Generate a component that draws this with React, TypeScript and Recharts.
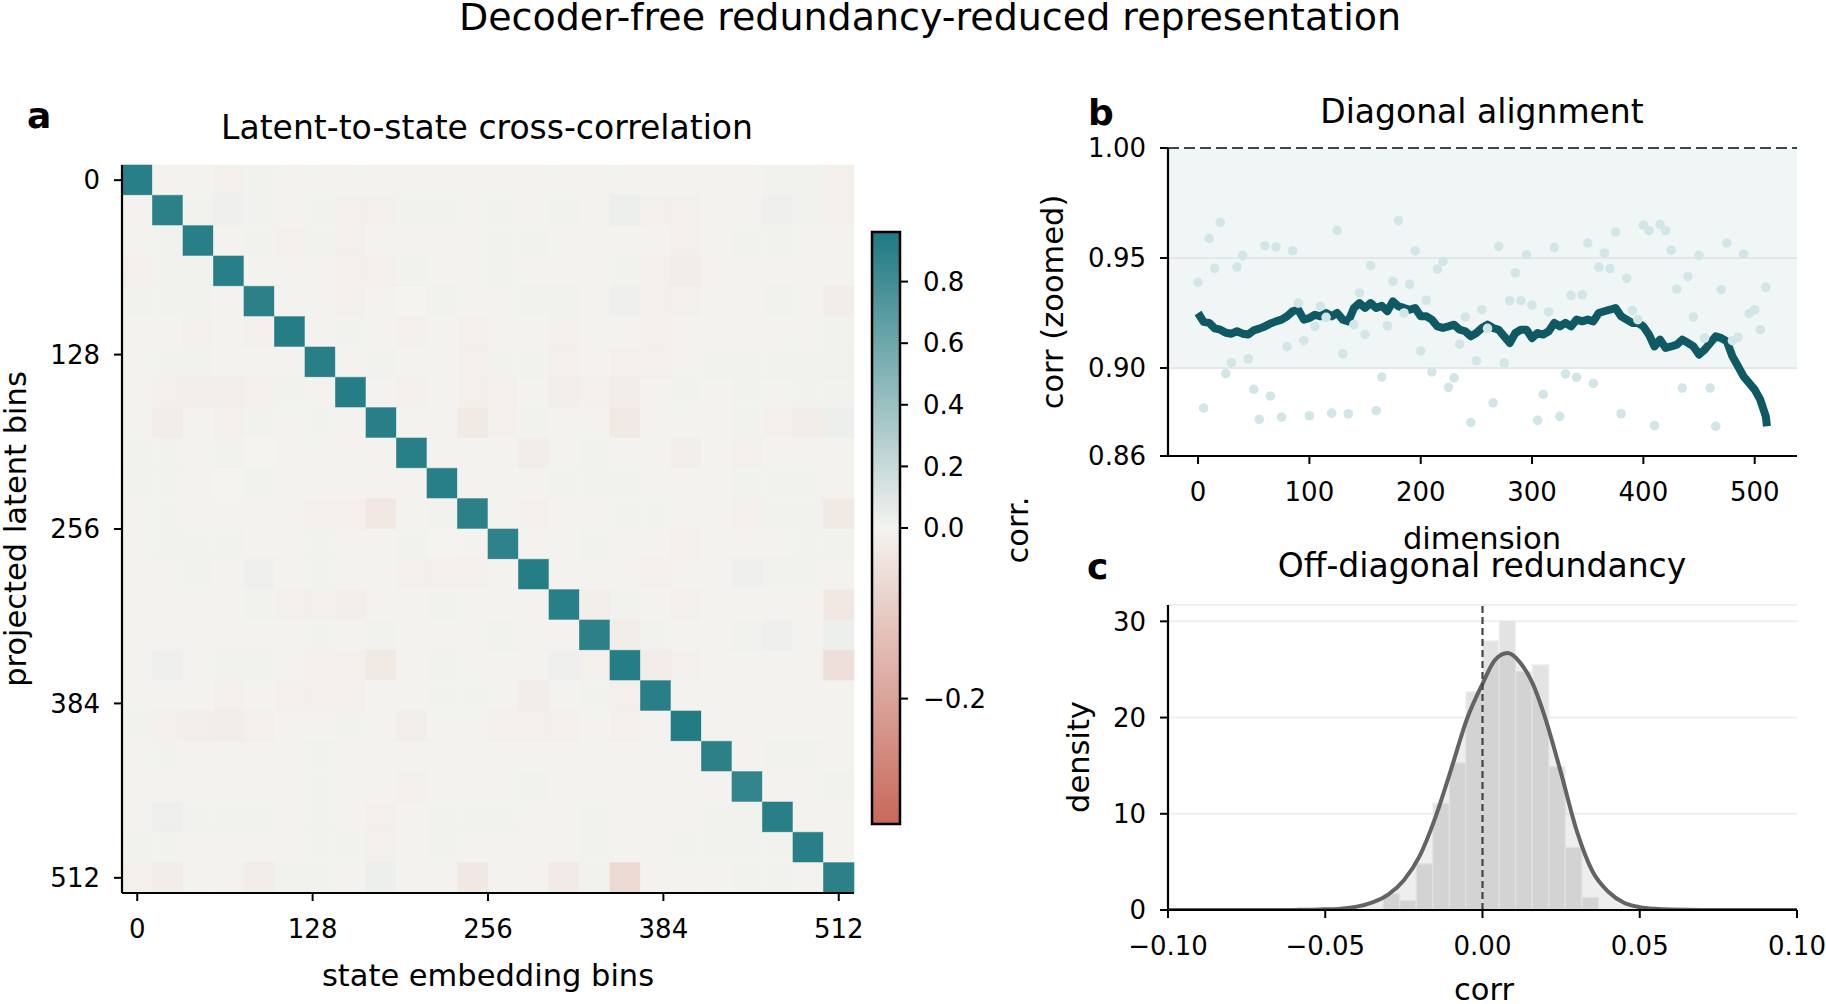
import React from 'react';
import {
  ComposedChart,
  XAxis,
  YAxis,
  ReferenceArea,
  ReferenceLine,
  CartesianGrid,
  Line,
  Area,
  Scatter,
} from 'recharts';

const FONT = '"DejaVu Sans", Verdana, sans-serif';

// ---------- a: latent-to-state cross-correlation (24 x 24 bins) ----------
const binTicks = [0, 128, 256, 384, 512];
const crossCorr: number[][] = [
  [0.91, .004, .004, -.008, .013, .004, .004, .004, .004, .004, .004, .004, .004, .004, .004, .004, .004, .004, .004, .004, .004, .013, .013, -.008],
  [.004, 0.90, .013, .022, .013, .004, .013, -.008, -.008, .013, .013, .004, .013, .004, .013, .004, .035, -.008, -.008, .004, .004, .022, .013, -.008],
  [.004, .013, 0.91, .004, .013, -.008, .013, -.008, .004, .004, .004, .004, .013, .013, .004, .004, .004, .004, -.008, .004, .013, .013, .004, .004],
  [-.008, .013, .013, 0.91, .004, .004, .004, -.008, -.008, .013, .004, .004, .013, .004, .004, .004, .013, -.008, -.014, .004, .004, .004, .004, .004],
  [.013, .013, .013, .004, 0.90, .004, .004, -.008, .004, .002, .013, .004, .004, .013, .013, .004, .022, -.008, -.008, .004, .004, .013, .004, -.014],
  [.004, .004, -.008, .004, -.008, 0.93, .004, .013, .004, -.008, .004, -.008, .004, .004, -.008, .004, .004, -.008, .004, .004, .004, .004, .004, .013],
  [.004, .013, .013, .004, .004, .004, 0.91, .004, .013, .004, .004, -.008, .013, .013, -.008, .004, -.008, -.008, .004, .013, .013, .013, .013, .018],
  [.004, -.008, -.012, -.012, -.008, .013, .004, 0.93, .004, -.008, .004, -.008, -.008, .004, -.012, -.008, -.014, .004, .013, .004, .013, .004, .013, .013],
  [.004, -.014, .004, -.008, .013, .004, .013, .004, 0.91, .004, .004, -.025, -.008, .013, .004, .004, -.025, .004, .004, .004, .013, -.008, -.014, .035],
  [.013, .013, .004, .013, .002, .004, .004, .004, .004, 0.91, .004, .004, .004, -.016, .004, .013, .004, .004, -.012, .004, -.008, .004, .004, .004],
  [.013, .013, .004, .002, .013, .004, .004, .004, .004, .004, 0.91, .004, .004, .004, .013, .013, .013, .004, .004, .004, .013, .013, .013, .004],
  [.004, .013, .004, .004, .004, .004, -.008, -.008, -.027, .004, .013, 0.90, .004, -.008, .004, .004, .013, .013, .004, .004, -.008, .013, .013, -.025],
  [.004, .013, .013, .013, .004, .004, .013, .004, .004, .013, .002, .004, 0.89, .004, .004, .013, .004, .004, -.008, .004, .004, .004, .013, .013],
  [.004, .004, .013, .004, .022, .004, .013, .004, .004, -.008, -.008, -.008, .004, 0.93, .004, .004, .004, -.008, .004, .004, .022, .013, .013, .004],
  [.004, .004, .004, .004, .013, -.008, -.008, -.012, .004, .004, .013, .004, .004, .004, 0.91, -.012, .013, .004, -.008, .004, .004, .004, .004, -.027],
  [.004, .004, .004, .004, .004, .004, .013, .004, .013, .004, .004, .004, .013, .004, .004, 0.90, -.016, .013, .004, .004, .013, .022, .004, .035],
  [.004, .022, .004, .013, .013, .004, -.008, -.008, -.025, .004, .013, .004, .004, .004, .022, -.008, 0.93, -.014, -.008, .004, .004, .004, .004, -.05],
  [.004, .004, .004, -.008, .004, -.008, -.008, -.008, .004, .004, .013, .013, .004, -.016, .004, .013, -.008, 0.91, .004, .004, .004, .004, .004, .004],
  [.013, -.008, -.012, -.016, -.008, .004, .004, .013, .004, -.012, .004, .004, -.008, -.008, -.008, .004, -.008, .004, 0.94, .004, .004, .004, .004, .004],
  [.004, .013, .004, .004, .004, .004, .013, .004, .004, .004, .004, .004, .004, .004, .004, .004, .004, .004, .004, 0.90, .004, .013, .013, .004],
  [.004, .004, .004, .004, .004, .004, .013, .004, .004, -.008, .004, .004, .004, .013, .004, .004, .004, .004, .004, .004, 0.87, .004, .004, .013],
  [.004, .022, .013, .013, .013, .004, .013, .004, -.008, .004, .013, .013, .013, .004, .004, .013, .004, .004, .004, .013, .013, 0.91, .004, .004],
  [.013, .013, .004, .004, .004, .004, .013, .013, -.008, .004, .013, .004, .004, .004, .004, .013, .004, .004, .013, .013, .013, .013, 0.91, .004],
  [-.008, -.016, .004, .004, -.016, .013, .013, .004, .035, .004, .004, -.027, .004, .004, -.022, .013, -.065, .004, .004, .004, .013, .013, .004, 0.90],
];

const cbarTicks = [-0.2, 0.0, 0.2, 0.4, 0.6, 0.8];
const cbarMin = -0.347;
const cbarMax = 0.961;

// ---------- b: diagonal alignment ----------
const sampleDims = [
  0, 5, 10, 15, 20, 25, 30, 35, 40, 45, 50, 55, 60, 65, 70, 75, 80, 85, 90, 95,
  100, 105, 110, 115, 120, 125, 130, 135, 140, 145, 150, 155, 160, 165, 170, 175, 180, 185, 190, 195,
  200, 205, 210, 215, 220, 225, 230, 235, 240, 245, 250, 255, 260, 265, 270, 275, 280, 285, 290, 295,
  300, 305, 310, 315, 320, 325, 330, 335, 340, 345, 350, 355, 360, 365, 370, 375, 380, 385, 390, 395,
  400, 405, 410, 415, 420, 425, 430, 435, 440, 445, 450, 455, 460, 465, 470, 475, 480, 485, 490, 495,
  500, 505, 510,
];
const rawCorr = [
  .9389, .8818, .9589, .9453, .9662, .8974, .9024, .9459, .9511, .9042, .8903, .8767, .9556, .8873, .9550, .8777, .9097, .9533, .9295, .9124,
  .8783, .9189, .9280, .9230, .8795, .9626, .9064, .8792, .9197, .9341, .9153, .9465, .8806, .8959, .9192, .9394, .9670, .9250, .9380, .9532,
  .9077, .9308, .8982, .9450, .9485, .8912, .8955, .9108, .9232, .8752, .9033, .9265, .9180, .8841, .9553, .9023, .9306, .9433, .9306, .9515,
  .9286, .8762, .8880, .9256, .9547, .8780, .8973, .9330, .8958, .9333, .9568, .8930, .9458, .9523, .9452, .9618, .8792, .9408, .9261, .9220,
  .9650, .9624, .8738, .9652, .9624, .9536, .9359, .8909, .9415, .9232, .9512, .9136, .8909, .8735, .9356, .9568, .9124, .9139, .9518, .9248,
  .9264, .9174, .9367,
];
const lineDims = [...sampleDims, 511];
const lineCorr = [
  .9250, .9210, .9205, .9180, .9174, .9160, .9156, .9167, .9156, .9152, .9171, .9179, .9189, .9202, .9212, .9220, .9235, .9258, .9265, .9220,
  .9227, .9242, .9235, .9250, .9235, .9250, .9220, .9212, .9273, .9295, .9273, .9295, .9273, .9283, .9258, .9303, .9280, .9273, .9265, .9273,
  .9235, .9235, .9220, .9189, .9182, .9189, .9197, .9174, .9167, .9144, .9159, .9182, .9197, .9182, .9174, .9144, .9114, .9159, .9174, .9174,
  .9136, .9159, .9152, .9167, .9205, .9189, .9205, .9189, .9220, .9212, .9220, .9212, .9250, .9258, .9265, .9273, .9235, .9220, .9205, .9205,
  .9189, .9152, .9098, .9129, .9091, .9098, .9106, .9129, .9114, .9098, .9061, .9083, .9114, .9144, .9136, .9121, .9053, .9008, .8962, .8932,
  .8902, .8856, .8780, .8735,
];
const dimTicks = [0, 100, 200, 300, 400, 500];
const alignTicks = [0.86, 0.9, 0.95, 1.0];

// ---------- c: off-diagonal redundancy ----------
const binEdges = [-0.0316, -0.0263, -0.0211, -0.0158, -0.0105, -0.0053, 0.0, 0.0053, 0.0105, 0.0158, 0.0211, 0.0263, 0.0316, 0.0369];
const binDensity = [1.7, 1.0, 4.8, 11.1, 15.3, 22.7, 28.0, 30.1, 24.8, 25.5, 14.9, 6.5, 1.3];
const kdeX = [-0.1, -0.09, -0.08, -0.07, -0.06, -0.055, -0.05, -0.045, -0.04, -0.035, -0.03, -0.025, -0.02, -0.015, -0.01, -0.005, 0, 0.004, 0.008, 0.012, 0.016, 0.02, 0.025, 0.03, 0.035, 0.04, 0.045, 0.05, 0.055, 0.06, 0.07, 0.08, 0.09, 0.1];
const kdeY = [0, 0, 0, 0, 0.01, 0.03, 0.07, 0.14, 0.35, 0.8, 1.6, 3.1, 5.6, 9.6, 14.6, 19.8, 23.5, 26.0, 26.7, 25.7, 23.5, 19.9, 14.2, 8.2, 4.0, 1.9, 0.75, 0.3, 0.12, 0.05, 0.01, 0, 0, 0];
const offTicks = [-0.1, -0.05, 0, 0.05, 0.1];
const densityTicks = [0, 10, 20, 30];

// ---------- helpers ----------
const cmapLow = [200, 104, 90];
const cmapMid = [244, 243, 239];
const cmapHigh = [30, 121, 130];

function corrColor(v: number): string {
  const t = v >= 0 ? Math.min(v / cbarMax, 1) : Math.min(v / cbarMin, 1);
  const end = v >= 0 ? cmapHigh : cmapLow;
  const rgb = cmapMid.map((m, i) => Math.round(m + (end[i] - m) * t));
  return `rgb(${rgb.join(',')})`;
}

// two-slope norm used by the colorbar axis
const norm = (v: number) => (v >= 0 ? 0.5 + (0.5 * v) / cbarMax : 0.5 - (0.5 * v) / cbarMin);
const normInv = (t: number) => (t >= 0.5 ? (t - 0.5) * 2 * cbarMax : (0.5 - t) * 2 * cbarMin);

const minus = (s: string) => s.replace('-', '\u2212');

const tickStyle = { fontSize: 26, fill: '#000', fontFamily: FONT };
const axisLine = { stroke: '#000', strokeWidth: 2.2 };
const tickLine = { stroke: '#000', strokeWidth: 2 };

function Heatmap() {
  const n = crossCorr.length;
  const step = 512 / (n - 1);
  const half = step / 2;
  const cells = crossCorr.flatMap((row, r) => row.map((v, c) => ({ x: c * step, y: r * step, v })));
  return (
    <ComposedChart width={900} height={1004} data={cells} margin={{ top: 165, right: 46, bottom: 51, left: 0 }}>
      <XAxis
        type="number"
        dataKey="x"
        domain={[-half, 512 + half]}
        ticks={binTicks}
        interval={0}
        allowDataOverflow
        height={60}
        tick={tickStyle}
        tickLine={tickLine}
        axisLine={axisLine}
        tickSize={8}
        tickMargin={19}
      />
      <YAxis
        type="number"
        dataKey="y"
        domain={[-half, 512 + half]}
        reversed
        ticks={binTicks}
        interval={0}
        allowDataOverflow
        width={122}
        tick={tickStyle}
        tickLine={tickLine}
        axisLine={axisLine}
        tickSize={8}
        tickMargin={14}
      />
      {cells.map((c, i) => (
        <ReferenceArea
          key={i}
          x1={c.x - half}
          x2={c.x + half}
          y1={c.y - half}
          y2={c.y + half}
          fill={corrColor(c.v)}
          fillOpacity={1}
          stroke={corrColor(c.v)}
          strokeWidth={0.6}
          ifOverflow="visible"
        />
      ))}
      <Scatter dataKey="y" shape={() => <g />} isAnimationActive={false} />
    </ComposedChart>
  );
}

function Colorbar() {
  const stops = [];
  for (let i = 0; i <= 40; i++) {
    const o = i / 40;
    stops.push(<stop key={i} offset={o} stopColor={corrColor(normInv(o))} />);
  }
  return (
    <ComposedChart width={200} height={1004} data={[{ x: 0.5, y: 0.5 }]} margin={{ top: 232, right: 60, bottom: 180, left: 12 }}>
      <defs>
        <linearGradient id="cbarGrad" x1="0" y1="1" x2="0" y2="0">
          {stops}
        </linearGradient>
      </defs>
      <XAxis type="number" dataKey="x" domain={[0, 1]} hide />
      <YAxis
        type="number"
        dataKey="y"
        orientation="right"
        domain={[0, 1]}
        ticks={cbarTicks.map(norm)}
        interval={0}
        allowDataOverflow
        tickFormatter={(t: number) => minus(normInv(t).toFixed(1))}
        width={100}
        tick={tickStyle}
        tickLine={tickLine}
        axisLine={false}
        tickSize={8}
        tickMargin={15}
      />
      <ReferenceArea x1={0} x2={1} y1={0} y2={1} fill="url(#cbarGrad)" fillOpacity={1} stroke="#000" strokeWidth={2.5} />
      <Scatter dataKey="y" shape={() => <g />} isAnimationActive={false} />
    </ComposedChart>
  );
}

function Alignment() {
  const lineData = lineDims.map((d, i) => ({ d, corr: lineCorr[i] }));
  const dotData = sampleDims.map((d, i) => ({ d, corr: rawCorr[i] }));
  const band = [{ d: -27, hi: 1.0 }, { d: 538, hi: 1.0 }];
  return (
    <ComposedChart width={786} height={560} margin={{ top: 148, right: 29, bottom: 44, left: 0 }}>
      <XAxis
        type="number"
        dataKey="d"
        domain={[-27, 538]}
        ticks={dimTicks}
        interval={0}
        allowDataOverflow
        height={60}
        tick={tickStyle}
        tickLine={tickLine}
        axisLine={axisLine}
        tickSize={8}
        tickMargin={19}
      />
      <YAxis
        type="number"
        domain={[0.86, 1.0]}
        ticks={alignTicks}
        interval={0}
        allowDataOverflow
        tickFormatter={(v: number) => v.toFixed(2)}
        width={128}
        tick={tickStyle}
        tickLine={tickLine}
        axisLine={axisLine}
        tickSize={8}
        tickMargin={14}
      />
      <Area data={band} dataKey="hi" baseValue={0.9} fill="#f0f5f6" fillOpacity={1} stroke="none" isAnimationActive={false} />
      <ReferenceLine y={0.95} stroke="#e2e7e7" strokeWidth={2} />
      <ReferenceLine y={0.9} stroke="#e2e7e7" strokeWidth={2} />
      <ReferenceLine y={1.0} stroke="#444" strokeWidth={2} strokeDasharray="11 5" />
      <Line
        data={dotData}
        dataKey="corr"
        stroke="none"
        dot={{ r: 4.8, fill: '#d3e6e7', stroke: 'none' }}
        activeDot={false}
        isAnimationActive={false}
      />
      <Line
        data={lineData}
        dataKey="corr"
        stroke="#0f5964"
        strokeWidth={8}
        strokeLinejoin="round"
        dot={false}
        activeDot={false}
        isAnimationActive={false}
      />
    </ComposedChart>
  );
}

function Redundancy() {
  const kde = kdeX.map((x, i) => ({ x, y: kdeY[i] }));
  return (
    <ComposedChart width={786} height={464} margin={{ top: 65, right: 29, bottom: 34, left: 0 }}>
      <CartesianGrid vertical={false} stroke="#efefef" strokeWidth={2} />
      <XAxis
        type="number"
        dataKey="x"
        domain={[-0.1, 0.1]}
        ticks={offTicks}
        interval={0}
        allowDataOverflow
        tickFormatter={(v: number) => minus(v.toFixed(2))}
        height={60}
        tick={tickStyle}
        tickLine={tickLine}
        axisLine={axisLine}
        tickSize={8}
        tickMargin={19}
      />
      <YAxis
        type="number"
        domain={[0, 31.7]}
        ticks={densityTicks}
        interval={0}
        allowDataOverflow
        width={128}
        tick={tickStyle}
        tickLine={tickLine}
        axisLine={axisLine}
        tickSize={8}
        tickMargin={14}
      />
      {binDensity.map((h, i) => (
        <Area
          key={i}
          data={[
            { x: binEdges[i], y: 0 },
            { x: binEdges[i], y: h },
            { x: binEdges[i + 1], y: h },
            { x: binEdges[i + 1], y: 0 },
          ]}
          dataKey="y"
          baseValue={0}
          fill="#e3e3e3"
          fillOpacity={1}
          stroke="#f2f2f2"
          strokeWidth={1.2}
          isAnimationActive={false}
        />
      ))}
      <Area data={kde} dataKey="y" type="monotone" baseValue={0} fill="#000" fillOpacity={0.065} stroke="none" isAnimationActive={false} />
      <Line data={kde} dataKey="y" type="monotone" stroke="#636363" strokeWidth={4} dot={false} activeDot={false} isAnimationActive={false} />
      <ReferenceLine x={0} stroke="#444" strokeWidth={2.2} strokeDasharray="7 4" />
    </ComposedChart>
  );
}

function Texts() {
  return (
    <svg
      width={1826}
      height={1004}
      style={{ position: 'absolute', left: 0, top: 0, pointerEvents: 'none' }}
      fontFamily={FONT}
      fill="#000"
    >
      <text x={930} y={30} fontSize={38} textAnchor="middle">Decoder-free redundancy-reduced representation</text>

      <text x={27} y={128} fontSize={36} fontWeight="bold">a</text>
      <text x={487} y={139} fontSize={33} textAnchor="middle">Latent-to-state cross-correlation</text>
      <text transform="translate(26,529) rotate(-90)" fontSize={30.5} textAnchor="middle">projected latent bins</text>
      <text x={488} y={986} fontSize={30.5} textAnchor="middle">state embedding bins</text>
      <text transform="translate(1028,530) rotate(-90)" fontSize={30.5} textAnchor="middle">corr.</text>

      <text x={1088} y={125} fontSize={36} fontWeight="bold">b</text>
      <text x={1482} y={123} fontSize={33} textAnchor="middle">Diagonal alignment</text>
      <text transform="translate(1063,302) rotate(-90)" fontSize={30.5} textAnchor="middle">corr (zoomed)</text>
      <text x={1482} y={549} fontSize={30.5} textAnchor="middle">dimension</text>

      <text x={1087} y={579} fontSize={36} fontWeight="bold">c</text>
      <text x={1482} y={577} fontSize={33} textAnchor="middle">Off-diagonal redundancy</text>
      <text transform="translate(1089,757) rotate(-90)" fontSize={30.5} textAnchor="middle">density</text>
      <text x={1484} y={1000} fontSize={30.5} textAnchor="middle">corr</text>
    </svg>
  );
}

const box = (left: number, top: number): React.CSSProperties => ({ position: 'absolute', left, top });

export default function App() {
  return (
    <div
      style={{
        position: 'absolute',
        left: 0,
        top: 0,
        width: 1826,
        height: 1004,
        background: '#fff',
        overflow: 'hidden',
        fontFamily: FONT,
      }}
    >
      <div style={box(0, 0)}>
        <Heatmap />
      </div>
      <div style={box(860, 0)}>
        <Colorbar />
      </div>
      <div style={box(1040, 0)}>
        <Alignment />
      </div>
      <div style={box(1040, 540)}>
        <Redundancy />
      </div>
      <Texts />
    </div>
  );
}
